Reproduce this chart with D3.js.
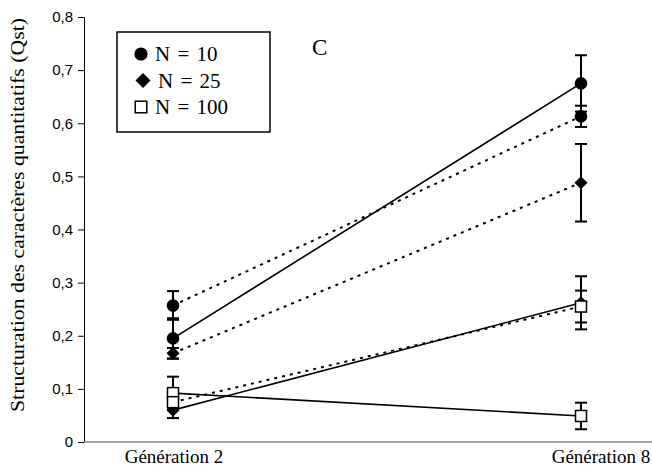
<!DOCTYPE html>
<html><head><meta charset="utf-8">
<script src="https://cdn.jsdelivr.net/npm/d3@7"></script>
<style>body{margin:0;background:#fff}svg{display:block}</style>
</head><body>
<svg id="c" width="652" height="473"></svg>
<script>
const categories = ["Génération 2", "Génération 8"];
const yTicks = [0, 0.1, 0.2, 0.3, 0.4, 0.5, 0.6, 0.7, 0.8];
const seriesNames = ["N10 solid", "N10 dotted", "N25 dotted", "N25 solid", "N100 solid", "N100 dotted"];
const seriesSymbols = ["circle", "circle", "diamond", "diamond", "square", "square"];
const seriesDashed = [false, true, true, false, false, true];
const n10Solid = [0.195, 0.675];
const n10SolidErr = [0.038, 0.053];
const n10Dotted = [0.257, 0.613];
const n10DottedErr = [0.027, 0.02];
const n25Dotted = [0.167, 0.488];
const n25DottedErr = [0.01, 0.073];
const n25Solid = [0.06, 0.262];
const n25SolidErr = [0.015, 0.05];
const n100Solid = [0.092, 0.049];
const n100SolidErr = [0.031, 0.025];
const n100Dotted = [0.075, 0.255];
const n100DottedErr = [0.01, 0.03];
const legendLabels = ["N = 10", "N = 25", "N = 100"];
const legendSymbols = ["circle", "diamond", "square"];
const panelLabel = "C";
const yTitle = "Structuration des caractères quantitatifs (Qst)";

const values = [n10Solid, n10Dotted, n25Dotted, n25Solid, n100Solid, n100Dotted];
const errs = [n10SolidErr, n10DottedErr, n25DottedErr, n25SolidErr, n100SolidErr, n100DottedErr];

const svg = d3.select("#c");
const axisX = 84, axisY = 442;
const x = d3.scalePoint().domain(categories).range([173, 581]);
const y = d3.scaleLinear().domain([0, 0.8]).range([442, 17]);

// y axis
const yAxis = svg.append("g").attr("transform", `translate(${axisX},0)`)
  .call(d3.axisLeft(y).tickValues(yTicks).tickSize(6).tickPadding(5)
    .tickFormat(d => d === 0 ? "0" : d3.format(".1f")(d).replace(".", ",")));
yAxis.select(".domain").attr("stroke", "#000").attr("stroke-width", 1);
yAxis.selectAll(".tick line").attr("stroke", "#000");
yAxis.selectAll(".tick text").attr("font-family", "Liberation Sans, Arial, sans-serif").attr("font-size", 15).attr("fill", "#000");

// x axis line
svg.append("line").attr("x1", axisX).attr("x2", 652).attr("y1", axisY).attr("y2", axisY)
  .attr("stroke", "#888").attr("stroke-width", 1.5);

// x labels
svg.selectAll(".xl").data(categories).enter().append("text")
  .attr("x", (d, i) => x(d) + (i === 1 ? 20 : 1)).attr("y", 463)
  .attr("text-anchor", "middle").attr("font-family", "Liberation Serif, Times New Roman, serif")
  .attr("font-size", 19).text(d => d);

// y title
svg.append("text").attr("transform", `translate(24,${(17 + 413) / 2}) rotate(-90)`)
  .attr("text-anchor", "middle").attr("font-family", "Liberation Serif, Times New Roman, serif")
  .attr("font-size", 18).attr("textLength", 394).attr("lengthAdjust", "spacingAndGlyphs").text(yTitle);

// lines
const line = d3.line().x((d, i) => x(categories[i])).y(d => y(d));
values.forEach((v, s) => {
  svg.append("path").attr("d", line(v)).attr("fill", "none").attr("stroke", "#000")
    .attr("stroke-width", seriesDashed[s] ? 2 : 1.6)
    .attr("stroke-dasharray", seriesDashed[s] ? "3,5" : null);
});

// error bars
values.forEach((v, s) => {
  v.forEach((val, i) => {
    const cx = x(categories[i]), e = errs[s][i];
    const g = svg.append("g").attr("stroke", "#000").attr("stroke-width", 2);
    g.append("line").attr("x1", cx).attr("x2", cx).attr("y1", y(val - e)).attr("y2", y(val + e));
    [val - e, val + e].forEach(t => g.append("line").attr("x1", cx - 6).attr("x2", cx + 6).attr("y1", y(t)).attr("y2", y(t)));
  });
});

function drawSymbol(g, type, cx, cy, k) {
  k = k || 1;
  if (type === "circle") g.append("circle").attr("cx", cx).attr("cy", cy).attr("r", 6.3 * k).attr("fill", "#000");
  else if (type === "diamond") { const h = 6.5 * k; g.append("path").attr("d", `M${cx},${cy - h}L${cx + h},${cy}L${cx},${cy + h}L${cx - h},${cy}Z`).attr("fill", "#000"); }
  else g.append("rect").attr("x", cx - 5.5 * k).attr("y", cy - 5.5 * k).attr("width", 11 * k).attr("height", 11 * k).attr("fill", "#fff").attr("stroke", "#000").attr("stroke-width", 1.5);
}

// markers
values.forEach((v, s) => {
  v.forEach((val, i) => drawSymbol(svg, seriesSymbols[s], x(categories[i]), y(val)));
});

// legend
const lg = svg.append("g");
lg.append("rect").attr("x", 117).attr("y", 32).attr("width", 153).attr("height", 100)
  .attr("fill", "#fff").attr("stroke", "#000").attr("stroke-width", 1.5);
legendLabels.forEach((t, i) => {
  const cy = 54 + i * 26.5;
  drawSymbol(lg, legendSymbols[i], 141 + (i === 1 ? 2 : 0), cy, i === 1 ? 1.15 : 1.05);
  lg.append("text").attr("x", 155 + (i === 1 ? 3 : 0)).attr("y", cy + 7)
    .attr("font-family", "Liberation Serif, Times New Roman, serif").attr("font-size", 21)
    .attr("word-spacing", 2).text(t);
});

svg.append("text").attr("x", 312).attr("y", 55).attr("font-family", "Liberation Serif, Times New Roman, serif")
  .attr("font-size", 23).text(panelLabel);
</script>
</body></html>
